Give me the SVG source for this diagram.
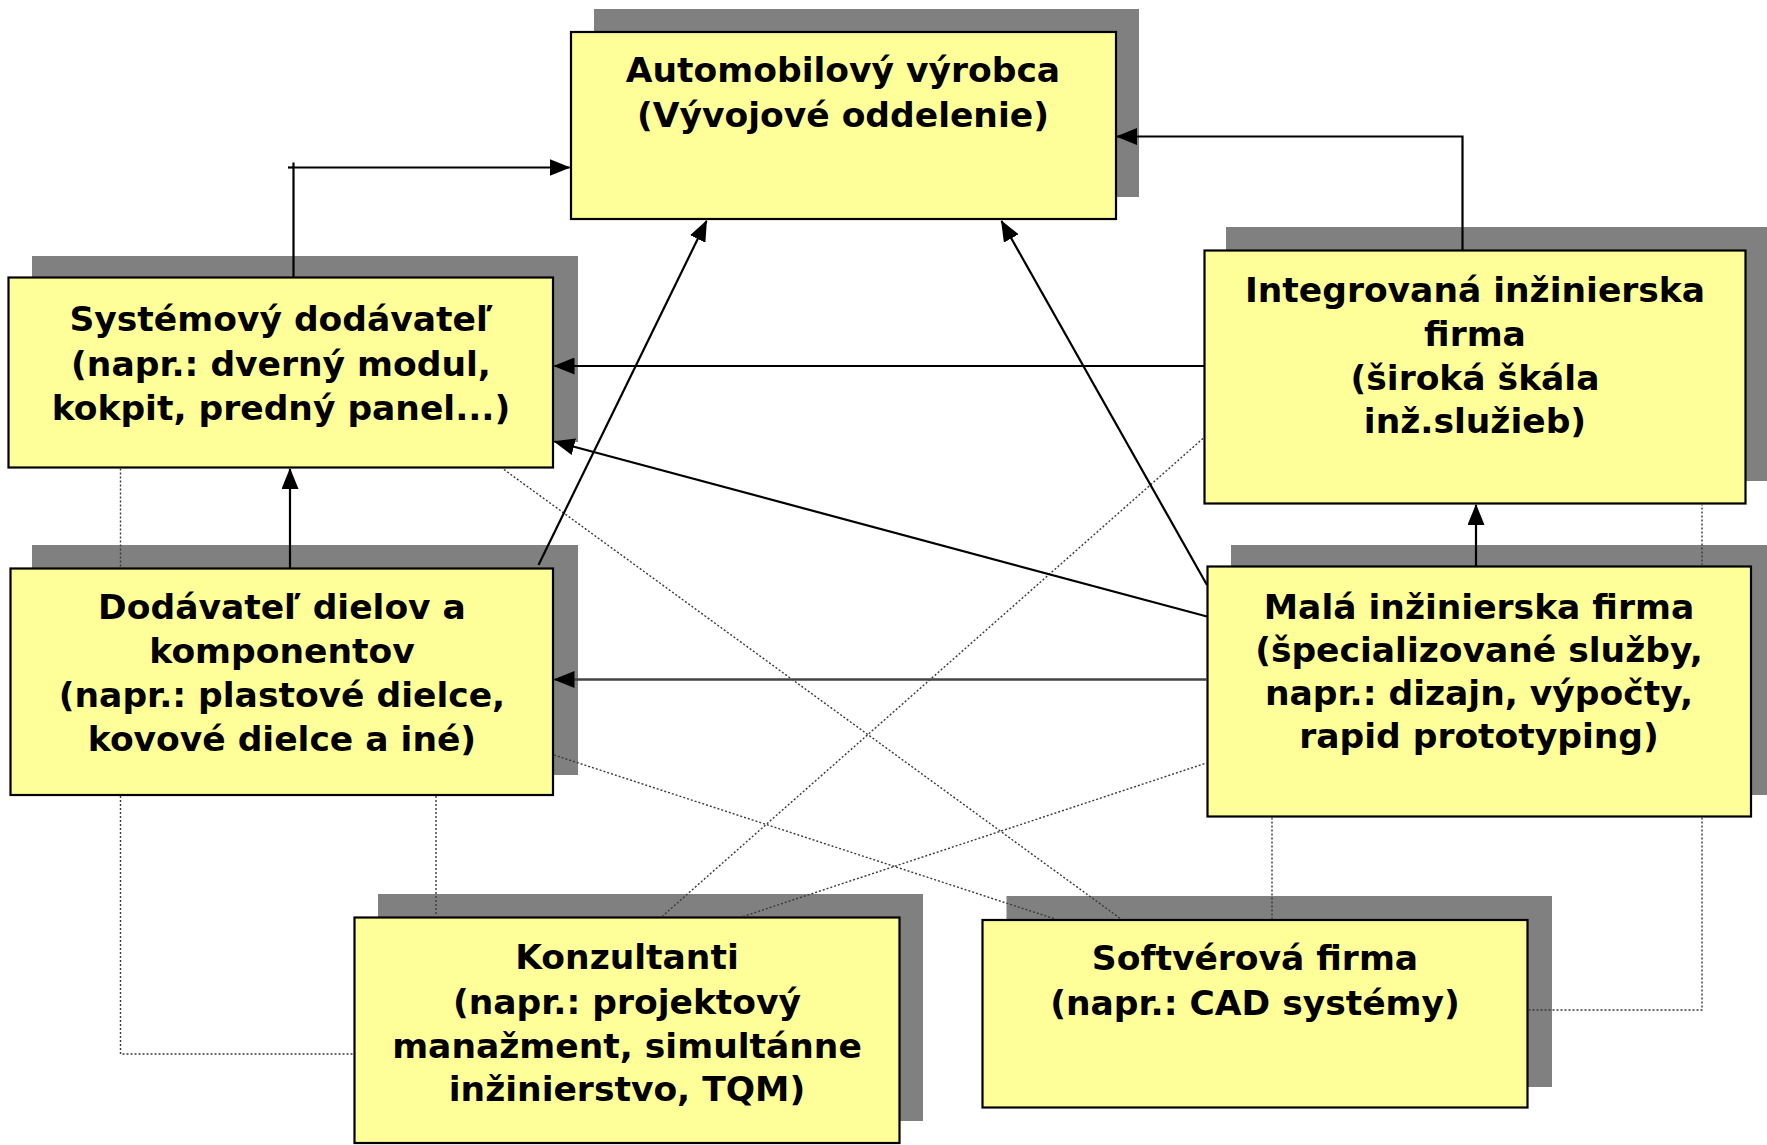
<svg xmlns="http://www.w3.org/2000/svg" width="1767" height="1145" viewBox="0 0 1767 1145">
  <style>
    .shadow { fill: #808080; }
    .box { fill: #FFFF99; stroke: #000; stroke-width: 2.2; }
    .label { font-family: "DejaVu Sans", "Liberation Sans", sans-serif; font-weight: bold; font-size: 34.5px; fill: #000; text-anchor: middle; }
    .solid { fill: none; stroke: #000; stroke-width: 2.2; }
    .grey { fill: none; stroke: #444; stroke-width: 2.6; }
    .dotted { fill: none; stroke: #3a3a3a; stroke-width: 1.4; stroke-dasharray: 2 2; }
  </style>
  <defs>
    <marker id="arrow" markerUnits="userSpaceOnUse" markerWidth="21" markerHeight="17" refX="20" refY="8.5" orient="auto">
      <path d="M0,0 L21,8.5 L0,17 z" fill="#000"/>
    </marker>
  </defs>

  <rect width="1767" height="1145" fill="#fff"/>

  <!-- nodes: drop shadow, box, label -->
  <g id="automobilovy-vyrobca">
    <rect class="shadow" x="594" y="9" width="545" height="188"/>
    <rect class="box" x="571" y="32" width="545" height="187"/>
    <text class="label" x="843" y="82">Automobilový výrobca</text>
    <text class="label" x="843" y="127">(Vývojové oddelenie)</text>
  </g>

  <g id="systemovy-dodavatel">
    <rect class="shadow" x="32" y="256" width="546" height="186"/>
    <rect class="box" x="8.5" y="277.5" width="544.5" height="190"/>
    <text class="label" x="281" y="331">Systémový dodávateľ</text>
    <text class="label" x="281" y="375.5">(napr.: dverný modul,</text>
    <text class="label" x="281" y="420">kokpit, predný panel...)</text>
  </g>

  <g id="integrovana-firma">
    <rect class="shadow" x="1226" y="227" width="545" height="254"/>
    <rect class="box" x="1204.5" y="250.5" width="541" height="253"/>
    <text class="label" x="1475" y="302">Integrovaná inžinierska</text>
    <text class="label" x="1475" y="345.5">firma</text>
    <text class="label" x="1475" y="389.5">(široká škála</text>
    <text class="label" x="1475" y="433">inž.služieb)</text>
  </g>

  <g id="dodavatel-dielov">
    <rect class="shadow" x="32" y="545" width="546" height="230"/>
    <rect class="box" x="10.5" y="568.5" width="542.5" height="226.5"/>
    <text class="label" x="282" y="619">Dodávateľ dielov a</text>
    <text class="label" x="282" y="663">komponentov</text>
    <text class="label" x="282" y="707">(napr.: plastové dielce,</text>
    <text class="label" x="282" y="751">kovové dielce a iné)</text>
  </g>

  <g id="mala-firma">
    <rect class="shadow" x="1231" y="545" width="540" height="250"/>
    <rect class="box" x="1207.5" y="566.5" width="543.5" height="250"/>
    <text class="label" x="1479" y="619">Malá inžinierska firma</text>
    <text class="label" x="1479" y="662">(špecializované služby,</text>
    <text class="label" x="1479" y="705">napr.: dizajn, výpočty,</text>
    <text class="label" x="1479" y="748">rapid prototyping)</text>
  </g>

  <g id="konzultanti">
    <rect class="shadow" x="378" y="894" width="545" height="227"/>
    <rect class="box" x="354.5" y="917.5" width="545" height="225.5"/>
    <text class="label" x="627" y="969">Konzultanti</text>
    <text class="label" x="627" y="1014">(napr.: projektový</text>
    <text class="label" x="627" y="1058">manažment, simultánne</text>
    <text class="label" x="627" y="1101">inžinierstvo, TQM)</text>
  </g>

  <g id="softverova-firma">
    <rect class="shadow" x="1006.5" y="896" width="545.5" height="191"/>
    <rect class="box" x="982.5" y="920" width="545" height="187.5"/>
    <text class="label" x="1255" y="970">Softvérová firma</text>
    <text class="label" x="1255" y="1015">(napr.: CAD systémy)</text>
  </g>

  <!-- connectors -->
  <g id="connectors">
    <!-- loose cooperation links (dotted) -->
    <polyline class="dotted" points="120.5,468.5 120.5,567.5"/>
    <polyline class="dotted" points="120.5,796 120.5,1054 353.5,1054"/>
    <line class="dotted" x1="436" y1="796" x2="436" y2="916.5"/>
    <line class="dotted" x1="504" y1="469.5" x2="1121" y2="919"/>
    <line class="dotted" x1="554" y1="755" x2="1055" y2="919"/>
    <line class="dotted" x1="662" y1="916.5" x2="1203.5" y2="438"/>
    <line class="dotted" x1="743" y1="916.5" x2="1206.5" y2="763"/>
    <line class="dotted" x1="1272" y1="817.5" x2="1272" y2="919"/>
    <polyline class="dotted" points="1528.5,1010 1702,1010 1702,817.5"/>
    <line class="dotted" x1="1702" y1="565.5" x2="1702" y2="504.5"/>

    <!-- supply / service relations (solid, arrowed) -->
    <polyline class="solid" points="293.5,277 293.5,167.5 569.5,167.5" marker-end="url(#arrow)"/>
    <line class="solid" x1="288" y1="167.5" x2="294" y2="167.5"/>
    <line class="solid" x1="293.5" y1="162.5" x2="293.5" y2="168"/>
    <polyline class="solid" points="1462.5,250 1462.5,136.5 1117,136.5" marker-end="url(#arrow)"/>
    <line class="solid" x1="1204" y1="366" x2="554.5" y2="366" marker-end="url(#arrow)"/>
    <line class="solid" x1="1207" y1="616.5" x2="554.5" y2="441.5" marker-end="url(#arrow)"/>
    <line class="grey" x1="1207" y1="679.5" x2="554.5" y2="679.5" marker-end="url(#arrow)"/>
    <line class="solid" x1="290" y1="568" x2="290" y2="469" marker-end="url(#arrow)"/>
    <line class="solid" x1="1476" y1="566" x2="1476" y2="505" marker-end="url(#arrow)"/>
    <line class="solid" x1="538.5" y1="565" x2="706.5" y2="221" marker-end="url(#arrow)"/>
    <line class="solid" x1="1207" y1="585" x2="1001.5" y2="221" marker-end="url(#arrow)"/>
  </g>
</svg>
